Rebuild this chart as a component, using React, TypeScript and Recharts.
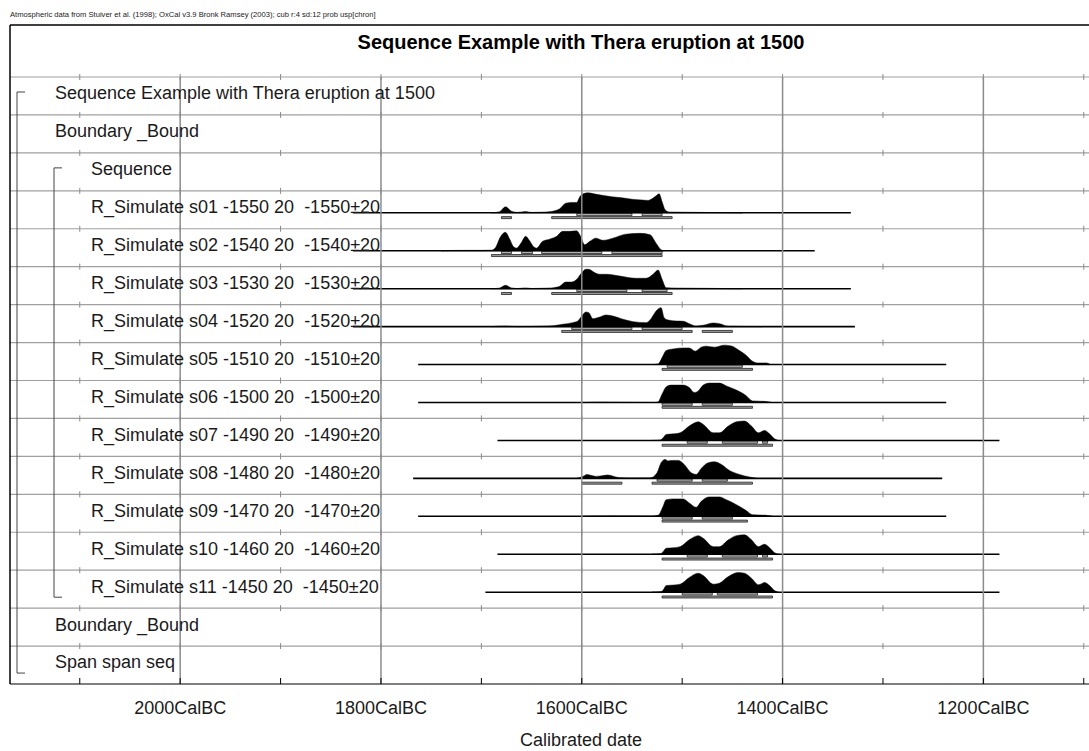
import React from "react";
import {
  ComposedChart,
  XAxis,
  YAxis,
  Area,
  Scatter,
  ReferenceLine,
  ReferenceArea,
} from "recharts";

const FONT = "'Liberation Sans', Arial, Helvetica, sans-serif";

const HEADER_NOTE =
  "Atmospheric data from Stuiver et al. (1998); OxCal v3.9 Bronk Ramsey (2003); cub r:4 sd:12 prob usp[chron]";
const TITLE = "Sequence Example with Thera eruption at 1500";

// rows, top to bottom
const ROW_LABELS = [
  "Sequence Example with Thera eruption at 1500",
  "Boundary _Bound",
  "Sequence",
  "R_Simulate s01 -1550 20  -1550\u00b120",
  "R_Simulate s02 -1540 20  -1540\u00b120",
  "R_Simulate s03 -1530 20  -1530\u00b120",
  "R_Simulate s04 -1520 20  -1520\u00b120",
  "R_Simulate s05 -1510 20  -1510\u00b120",
  "R_Simulate s06 -1500 20  -1500\u00b120",
  "R_Simulate s07 -1490 20  -1490\u00b120",
  "R_Simulate s08 -1480 20  -1480\u00b120",
  "R_Simulate s09 -1470 20  -1470\u00b120",
  "R_Simulate s10 -1460 20  -1460\u00b120",
  "R_Simulate s11 -1450 20  -1450\u00b120",
  "Boundary _Bound",
  "Span span seq",
];
const ROW_LEVEL = [0, 0, 1, 1, 1, 1, 1, 1, 1, 1, 1, 1, 1, 1, 0, 0];

// posterior densities: [year BC, relative probability]
const S01 = [[1690, 0], [1682, 0.05], [1676, 0.3], [1670, 0.08], [1664, 0.02], [1656, 0.06], [1650, 0.02], [1640, 0.03], [1630, 0.07], [1622, 0.2], [1616, 0.48], [1610, 0.52], [1605, 0.52], [1602, 0.8], [1598, 0.96], [1594, 1], [1588, 0.95], [1580, 0.88], [1570, 0.8], [1560, 0.75], [1550, 0.68], [1540, 0.64], [1534, 0.62], [1530, 0.7], [1526, 0.85], [1523, 0.95], [1520, 0.55], [1517, 0.15], [1513, 0.04], [1500, 0.03], [1480, 0.02], [1460, 0.01], [1440, 0]];
const S02 = [[1740, 0], [1720, 0.02], [1700, 0.02], [1690, 0.03], [1686, 0.15], [1681, 0.7], [1676, 0.92], [1672, 0.6], [1668, 0.2], [1665, 0.13], [1660, 0.42], [1656, 0.72], [1652, 0.5], [1648, 0.2], [1645, 0.13], [1639, 0.47], [1632, 0.58], [1625, 0.72], [1619, 0.97], [1612, 0.97], [1605, 1], [1602, 0.8], [1597, 0.3], [1592, 0.47], [1586, 0.63], [1579, 0.52], [1569, 0.63], [1556, 0.83], [1542, 0.87], [1532, 0.8], [1526, 0.38], [1521, 0.05], [1518, 0]];
const S03 = [[1690, 0], [1682, 0.03], [1676, 0.17], [1670, 0.04], [1664, 0.01], [1656, 0.04], [1650, 0.01], [1640, 0.02], [1630, 0.04], [1622, 0.12], [1616, 0.33], [1610, 0.33], [1605, 0.47], [1600, 0.8], [1596, 0.97], [1593, 0.97], [1587, 0.8], [1582, 0.72], [1575, 0.72], [1562, 0.63], [1546, 0.52], [1536, 0.52], [1529, 0.72], [1524, 0.93], [1520, 0.47], [1516, 0.05], [1505, 0.03], [1480, 0.02], [1460, 0.01], [1440, 0]];
const S04 = [[1690, 0], [1676, 0.03], [1665, 0], [1640, 0.02], [1628, 0.05], [1619, 0.12], [1609, 0.2], [1604, 0.28], [1600, 0.53], [1596, 0.73], [1593, 0.7], [1589, 0.4], [1582, 0.48], [1576, 0.58], [1569, 0.53], [1559, 0.37], [1549, 0.25], [1536, 0.2], [1531, 0.4], [1526, 0.78], [1521, 0.95], [1518, 0.45], [1514, 0.33], [1506, 0.28], [1499, 0.27], [1493, 0.15], [1486, 0.03], [1479, 0.07], [1469, 0.18], [1463, 0.15], [1454, 0.02], [1440, 0.01], [1420, 0]];
const S05 = [[1530, 0], [1524, 0.03], [1519, 0.45], [1516, 0.7], [1509, 0.78], [1499, 0.83], [1493, 0.83], [1487, 0.67], [1481, 0.87], [1476, 0.92], [1468, 0.87], [1458, 0.97], [1451, 0.93], [1443, 0.7], [1436, 0.45], [1431, 0.2], [1425, 0.08], [1416, 0.08], [1412, 0]];
const S06 = [[1600, 0], [1580, 0.02], [1560, 0.01], [1528, 0], [1524, 0.03], [1520, 0.42], [1516, 0.78], [1511, 0.87], [1499, 0.87], [1493, 0.75], [1488, 0.5], [1484, 0.58], [1479, 0.87], [1473, 0.97], [1463, 0.97], [1456, 0.83], [1446, 0.62], [1436, 0.33], [1430, 0.08], [1416, 0.05], [1410, 0]];
const S07 = [[1530, 0], [1522, 0.02], [1519, 0.13], [1516, 0.3], [1508, 0.33], [1502, 0.38], [1493, 0.72], [1484, 0.93], [1479, 0.8], [1469, 0.38], [1463, 0.38], [1454, 0.72], [1446, 0.93], [1438, 0.97], [1431, 0.72], [1424, 0.38], [1418, 0.5], [1413, 0.33], [1408, 0.08], [1404, 0]];
const S08 = [[1605, 0], [1598, 0.12], [1595, 0.2], [1590, 0.14], [1586, 0.1], [1580, 0.13], [1574, 0.17], [1568, 0.1], [1562, 0.03], [1550, 0.01], [1532, 0.02], [1525, 0.28], [1521, 0.78], [1517, 0.95], [1514, 0.87], [1511, 0.9], [1504, 0.9], [1498, 0.7], [1491, 0.28], [1486, 0.2], [1481, 0.5], [1474, 0.78], [1468, 0.83], [1461, 0.7], [1453, 0.4], [1443, 0.2], [1433, 0.07], [1425, 0]];
const S09 = [[1600, 0], [1580, 0.02], [1560, 0.02], [1530, 0.01], [1524, 0.05], [1519, 0.5], [1516, 0.83], [1509, 0.87], [1499, 0.87], [1493, 0.67], [1486, 0.45], [1481, 0.75], [1473, 0.97], [1463, 0.97], [1456, 0.83], [1446, 0.58], [1436, 0.28], [1430, 0.08], [1416, 0.05], [1410, 0]];
const S10 = [[1530, 0], [1522, 0.02], [1519, 0.13], [1516, 0.3], [1508, 0.33], [1502, 0.38], [1493, 0.72], [1484, 0.93], [1479, 0.8], [1469, 0.38], [1463, 0.38], [1454, 0.72], [1446, 0.93], [1438, 0.97], [1431, 0.72], [1424, 0.38], [1418, 0.5], [1413, 0.33], [1408, 0.08], [1404, 0]];
const S11 = [[1530, 0], [1522, 0.02], [1519, 0.1], [1516, 0.33], [1508, 0.36], [1502, 0.4], [1493, 0.73], [1484, 0.95], [1479, 0.83], [1469, 0.4], [1463, 0.45], [1454, 0.78], [1444, 0.98], [1438, 0.95], [1431, 0.7], [1424, 0.37], [1418, 0.48], [1413, 0.33], [1408, 0.08], [1404, 0]];
const DISTS = [S01, S02, S03, S04, S05, S06, S07, S08, S09, S10, S11];

// extent of each likelihood (years BC)
const LIKE_START = [1828, 1828, 1828, 1828, 1763, 1763, 1684, 1768, 1763, 1684, 1696];
const LIKE_END = [1332, 1368, 1332, 1328, 1237, 1237, 1184, 1241, 1237, 1184, 1184];

// highest posterior density ranges
const RANGE_68 = [
  [[1605, 1550], [1540, 1520]],
  [[1680, 1670], [1660, 1649], [1640, 1580], [1570, 1520]],
  [[1605, 1555], [1540, 1515]],
  [[1610, 1550], [1540, 1500]],
  [[1515, 1440]],
  [[1520, 1490], [1480, 1450]],
  [[1495, 1475], [1460, 1425], [1420, 1415]],
  [[1525, 1490], [1480, 1455]],
  [[1520, 1490], [1480, 1450]],
  [[1495, 1475], [1460, 1425], [1420, 1415]],
  [[1500, 1470], [1465, 1425]],
];
const RANGE_95 = [
  [[1680, 1670], [1630, 1510]],
  [[1690, 1520]],
  [[1680, 1670], [1630, 1510]],
  [[1620, 1490], [1480, 1450]],
  [[1520, 1430]],
  [[1520, 1430]],
  [[1520, 1410]],
  [[1600, 1560], [1530, 1430]],
  [[1520, 1435]],
  [[1520, 1410]],
  [[1520, 1410]],
];

const AXIS_TICKS = [2100, 2000, 1900, 1800, 1700, 1600, 1500, 1400, 1300, 1200, 1100];
const GRID_YEARS = [2000, 1800, 1600, 1400, 1200];

// layout
const WIDTH = 1152;
const HEIGHT = 751;
const PLOT_LEFT = 10;
const PLOT_TOP = 25;
const HEAD_BOTTOM = 77;
const AXIS_H = 67;
const AXIS_Y = HEIGHT - AXIS_H;
const N_ROWS = ROW_LABELS.length;
const ROW_H = (AXIS_Y - HEAD_BOTTOM) / N_ROWS;
const Y_TOP = N_ROWS + (HEAD_BOTTOM - PLOT_TOP) / ROW_H;
const PX_PER_YEAR = 1.004;
const X_MIN = -2169.5;
const X_MAX = X_MIN + (WIDTH - PLOT_LEFT) / PX_PER_YEAR;
const FIRST_SIM = 3;

const px = (n: number) => n / ROW_H;
const xAt = (pixel: number) => X_MIN + (pixel - PLOT_LEFT) / PX_PER_YEAR;
const rowTop = (i: number) => N_ROWS - i;
const baseOf = (i: number) => rowTop(i) - px(22);

const labelData = ROW_LABELS.map((label, i) => ({
  x: xAt(ROW_LEVEL[i] ? 91 : 55),
  y: rowTop(i) - px(16),
  label,
}));

const rowTickData: { x: number; y: number }[] = [];
for (let k = 1; k <= N_ROWS; k++) {
  AXIS_TICKS.forEach((yr) => rowTickData.push({ x: -yr, y: k }));
}

const RowLabel = (props: any) => (
  <text
    x={props.cx}
    y={props.cy}
    dy={6.4}
    fontSize={18}
    fontFamily={FONT}
    fill="#1a1a1a"
    style={{ whiteSpace: "pre" }}
  >
    {props.payload?.label}
  </text>
);

const AxisTick = (props: any) => {
  const yr = -props.payload.value;
  return (
    <g>
      <line x1={props.x} x2={props.x} y1={AXIS_Y - 6} y2={AXIS_Y} stroke="#000" strokeWidth={1} />
      {yr % 200 === 0 && (
        <text x={props.x} y={AXIS_Y + 30} textAnchor="middle" fontSize={18} fontFamily={FONT} fill="#1a1a1a">
          {`${yr}CalBC`}
        </text>
      )}
    </g>
  );
};

const RowTick = (props: any) => (
  <line x1={props.cx} x2={props.cx} y1={props.cy - 3} y2={props.cy + 3} stroke="#8a8a8a" strokeWidth={1} />
);

const bracket = (x: number, hookX: number, top: number, bottom: number, key: string) => [
  <ReferenceLine key={key + "v"} segment={[{ x, y: top }, { x, y: bottom }]} stroke="#444" strokeWidth={1} />,
  <ReferenceLine key={key + "t"} segment={[{ x, y: top }, { x: hookX, y: top }]} stroke="#444" strokeWidth={1} />,
  <ReferenceLine key={key + "b"} segment={[{ x, y: bottom }, { x: hookX, y: bottom }]} stroke="#444" strokeWidth={1} />,
];

export default function App() {
  return (
    <div
      style={{
        position: "fixed",
        left: 0,
        top: 0,
        width: 1089,
        height: 751,
        overflow: "hidden",
        background: "#fff",
      }}
    >
      <ComposedChart width={WIDTH} height={HEIGHT} margin={{ top: PLOT_TOP, right: 0, bottom: 0, left: PLOT_LEFT }}>
        <XAxis
          type="number"
          dataKey="x"
          domain={[X_MIN, X_MAX]}
          allowDataOverflow
          ticks={AXIS_TICKS.map((t) => -t)}
          interval={0}
          height={AXIS_H}
          tickLine={false}
          axisLine={{ stroke: "#000", strokeWidth: 1.2 }}
          tick={AxisTick}
          label={{
            value: "Calibrated date",
            position: "insideBottom",
            offset: 5,
            fill: "#1a1a1a",
            fontSize: 18,
            fontFamily: FONT,
          }}
        />
        <YAxis
          type="number"
          dataKey="y"
          domain={[0, Y_TOP]}
          allowDataOverflow
          width={0}
          tick={false}
          axisLine={false}
          tickLine={false}
        />

        <ReferenceArea
          x1={X_MIN}
          x2={X_MAX}
          y1={N_ROWS}
          y2={Y_TOP}
          fillOpacity={0}
          strokeOpacity={0}
          label={{
            value: TITLE,
            position: "insideTop",
            offset: 10,
            fill: "#000",
            fontSize: 20,
            fontWeight: "bold",
            fontFamily: FONT,
          }}
        />

        {Array.from({ length: N_ROWS }, (_, k) => (
          <ReferenceLine key={"row" + k} y={k + 1} stroke="#a0a0a0" strokeWidth={1.2} />
        ))}
        <ReferenceLine y={Y_TOP} stroke="#000" strokeWidth={1.5} />
        <ReferenceLine x={X_MIN} stroke="#000" strokeWidth={1.5} />

        <Scatter data={rowTickData} dataKey="y" shape={RowTick} isAnimationActive={false} />
        <Scatter data={labelData} dataKey="y" shape={RowLabel} isAnimationActive={false} />

        {bracket(xAt(17), xAt(25), rowTop(0) - px(15), rowTop(15) - px(27), "outer")}
        {bracket(xAt(54), xAt(62), rowTop(2) - px(15), rowTop(13) - px(27), "inner")}

        {DISTS.map((d, k) => {
          const base = baseOf(FIRST_SIM + k);
          const data = d
            .map(([yr, p]) => ({ x: -yr, v: [base, base + p * px(20)] }))
            .sort((a, b) => a.x - b.x);
          return (
            <Area
              key={"dist" + k}
              data={data}
              dataKey="v"
              type="monotone"
              stroke="#000"
              strokeWidth={0.5}
              fill="#000"
              fillOpacity={1}
              dot={false}
              activeDot={false}
              isAnimationActive={false}
            />
          );
        })}

        {DISTS.map((_, k) => {
          const base = baseOf(FIRST_SIM + k);
          return (
            <ReferenceLine
              key={"like" + k}
              segment={[{ x: -LIKE_START[k], y: base }, { x: -LIKE_END[k], y: base }]}
              stroke="#000"
              strokeWidth={1.6}
            />
          );
        })}

        {RANGE_68.map((ranges, k) =>
          ranges.map(([a, b], j) => {
            const base = baseOf(FIRST_SIM + k);
            return (
              <ReferenceArea
                key={"r68" + k + "-" + j}
                x1={-a}
                x2={-b}
                y1={base - px(0.6)}
                y2={base - px(2.8)}
                fill="#b0b0b0"
                fillOpacity={1}
                stroke="#222"
                strokeWidth={0.8}
              />
            );
          })
        )}
        {RANGE_95.map((ranges, k) =>
          ranges.map(([a, b], j) => {
            const base = baseOf(FIRST_SIM + k);
            return (
              <ReferenceArea
                key={"r95" + k + "-" + j}
                x1={-a}
                x2={-b}
                y1={base - px(3.8)}
                y2={base - px(5.8)}
                fill="#9a9a9a"
                fillOpacity={1}
                stroke="#222"
                strokeWidth={0.8}
              />
            );
          })
        )}

        {GRID_YEARS.map((yr) => (
          <ReferenceLine
            key={"grid" + yr}
            segment={[{ x: -yr, y: 0 }, { x: -yr, y: N_ROWS }]}
            stroke="#8c8c8c"
            strokeWidth={1.5}
          />
        ))}

        <text x={PLOT_LEFT} y={17} fontSize={7.6} fontFamily={FONT} fill="#1a1a1a">
          {HEADER_NOTE}
        </text>
      </ComposedChart>
    </div>
  );
}
